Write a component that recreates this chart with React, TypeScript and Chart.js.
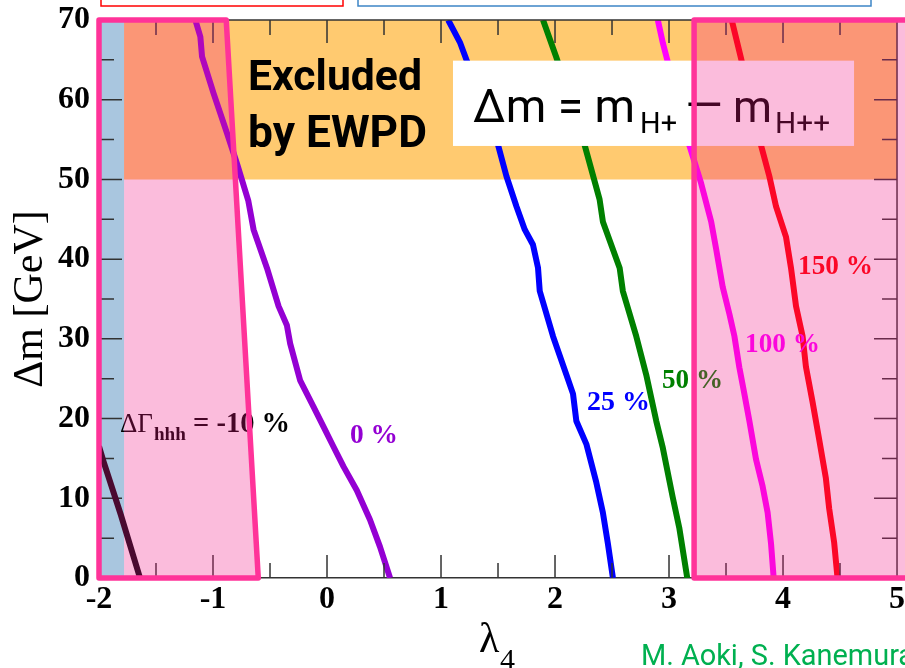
import React, { useEffect, useRef } from "react";
import { Chart, registerables } from "chart.js";

Chart.register(...registerables);

// ---------- axes ----------
const X_MIN = -2;
const X_MAX = 5.07;
const Y_MIN = 0;
const Y_MAX = 70;
const X_TICK_LABELS = [-2, -1, 0, 1, 2, 3, 4, 5];
const Y_TICK_LABELS = [0, 10, 20, 30, 40, 50, 60, 70];
const X_MAJOR_MARKS = [-1, 0, 1, 2, 3, 4];
const X_MINOR_MARKS = [-1.5, -0.5, 0.5, 1.5, 2.5, 3.5, 4.5];
const Y_MAJOR_MARKS = [10, 20, 30, 40, 50, 60];
const Y_MINOR_MARKS = [5, 15, 25, 35, 45, 55, 65];
const X_RIGHT_EDGE = 5;

// ---------- contour curves  [lambda4, Δm] ----------
const CURVE_M10: [number, number][] = [
  [-2.0, 16.5], [-1.96, 14.6], [-1.81, 8.0], [-1.64, 0],
];
const CURVE_0: [number, number][] = [
  [-1.155, 70], [-1.111, 67.9], [-1.096, 65.4], [-0.995, 60.8], [-0.877, 55.8],
  [-0.79, 52.0], [-0.69, 47.3], [-0.644, 43.7], [-0.527, 38.9], [-0.425, 34.1],
  [-0.352, 31.7], [-0.323, 29.4], [-0.236, 24.8], [-0.119, 21.5], [-0.031, 19.0],
  [0.056, 16.5], [0.144, 14.0], [0.261, 11.0], [0.377, 7.3], [0.465, 3.9], [0.553, 0],
];
const CURVE_25: [number, number][] = [
  [1.063, 70], [1.166, 67.2], [1.501, 54.3], [1.574, 50.4], [1.662, 46.6],
  [1.735, 43.7], [1.807, 41.8], [1.851, 38.9], [1.866, 36.0], [1.983, 30.3],
  [2.1, 25.5], [2.158, 23.1], [2.187, 19.7], [2.275, 16.8], [2.362, 12.0],
  [2.42, 8.2], [2.464, 4.3], [2.508, 0],
];
const CURVE_50: [number, number][] = [
  [1.895, 70], [2.012, 65.3], [2.26, 54.3], [2.391, 47.5], [2.42, 44.7],
  [2.567, 38.9], [2.595, 36.0], [2.713, 30.3], [2.8, 25.5], [2.888, 19.7],
  [2.946, 16.3], [3.033, 10.1], [3.09, 6.3], [3.16, 0],
];
const CURVE_100: [number, number][] = [
  [2.902, 70], [2.946, 67.1], [3.18, 54.2], [3.282, 49.5], [3.37, 44.7],
  [3.413, 41.3], [3.471, 36.5], [3.53, 33.1], [3.574, 30.3], [3.617, 26.4],
  [3.661, 23.1], [3.705, 19.7], [3.763, 14.9], [3.821, 11.5], [3.865, 8.2],
  [3.895, 4.3], [3.918, 0],
];
const CURVE_150: [number, number][] = [
  [3.55, 70], [3.63, 65.3], [3.807, 54.3], [3.88, 50.4], [3.939, 46.6],
  [4.026, 42.8], [4.07, 38.9], [4.114, 34.1], [4.172, 30.3], [4.201, 26.5],
  [4.259, 22.1], [4.318, 17.3], [4.376, 12.5], [4.405, 8.7], [4.449, 4.4],
  [4.478, 0],
];

// ---------- regions [lambda4, Δm] ----------
const EWPD_BAND: [number, number][] = [[-2, 50], [5, 50], [5, 70], [-2, 70], [-2, 50]];
const BLUE_STRIP: [number, number][] = [[-2, 0], [-1.78, 0], [-1.78, 70], [-2, 70], [-2, 0]];
const LEFT_SHADE: [number, number][] = [[-1.78, 0], [-0.603, 0], [-0.884, 70], [-1.78, 70], [-1.78, 0]];
const LEFT_FRAME: [number, number][] = [[-2, 0], [-0.603, 0], [-0.884, 70], [-2, 70], [-2, 0]];
const RIGHT_SHADE: [number, number][] = [[3.22, 0], [5.4, 0], [5.4, 70], [3.22, 70], [3.22, 0]];
const RIGHT_FRAME: [number, number][] = [[3.22, 0], [5.4, 0], [5.4, 70], [3.22, 70], [3.22, 0]];

// plot-box size in pixels (used to turn tick-mark lengths into axis units)
const PLOT_W = 806;
const PLOT_H = 558;
const TICK_MAJOR_PX = 23;
const TICK_MINOR_PX = 15;

const SERIF = "'Liberation Serif', 'Times New Roman', serif";
const SANS = "Roboto, 'Open Sans', sans-serif";
const PINK_SHADE = "rgba(240,24,134,0.29)";
const PINK_LINE = "#ff3399";
const FRAME_COLOR = "#333333";

const pts = (a: [number, number][]) => a.map(([x, y]) => ({ x, y }));
const xUnits = (px: number) => (px * (X_MAX - X_MIN)) / PLOT_W;
const yUnits = (px: number) => (px * (Y_MAX - Y_MIN)) / PLOT_H;

// inward tick marks as broken line segments (null point = gap)
function xMarks(marks: number[], edge: number, dir: number, px: number) {
  const out: any[] = [];
  for (const v of marks) {
    out.push({ x: v, y: edge }, { x: v, y: edge + dir * yUnits(px) }, { x: v, y: null });
  }
  return out;
}
function yMarks(marks: number[], edge: number, dir: number, px: number) {
  const out: any[] = [];
  for (const v of marks) {
    out.push({ x: edge, y: v }, { x: edge + dir * xUnits(px), y: v }, { x: null, y: v });
  }
  return out;
}

function fitSize(ctx: CanvasRenderingContext2D, text: string, width: number, font: (s: number) => string) {
  ctx.font = font(100);
  return (100 * width) / ctx.measureText(text).width;
}

function fitText(ctx: CanvasRenderingContext2D, text: string, x: number, y: number, width: number,
  font: (s: number) => string, color: string) {
  const size = fitSize(ctx, text, width, font);
  ctx.font = font(size);
  ctx.fillStyle = color;
  ctx.textBaseline = "alphabetic";
  ctx.textAlign = "left";
  ctx.fillText(text, x, y);
}

function drawAnnotations(chart: any) {
  const ctx: CanvasRenderingContext2D = chart.ctx;
  const px = (v: number) => chart.scales.x.getPixelForValue(v);
  const py = (v: number) => chart.scales.y.getPixelForValue(v);
  ctx.save();
  // label box
  ctx.fillStyle = "#ffffff";
  ctx.fillRect(px(1.105), py(64.9), px(4.623) - px(1.105), py(54.2) - py(64.9));
  const sansB = (s: number) => `bold ${s}px ${SANS}`;
  const sans = (s: number) => `${s}px ${SANS}`;
  const serifB = (s: number) => `bold ${s}px ${SERIF}`;
  const serif = (s: number) => `${s}px ${SERIF}`;
  fitText(ctx, "Excluded", px(-0.693), py(61.2), 174, sansB, "#000");
  fitText(ctx, "by EWPD", px(-0.693), py(54.1), 179, sansB, "#000");
  fitText(ctx, "Δm = m", px(1.281), py(57.2), 162, sans, "#000");
  fitText(ctx, "H+", px(2.746), py(55.8), 37, sans, "#000");
  fitText(ctx, "—", px(3.14), py(57.3), 38, sans, "#000");
  fitText(ctx, "m", px(3.561), py(57.2), 39, sans, "#000");
  fitText(ctx, "H++", px(3.93), py(55.8), 55, sans, "#000");
  // ΔΓhhh = -10 %
  fitText(ctx, "ΔΓ", px(-1.816), py(18.35), 33, serif, "#000");
  fitText(ctx, "hhh", px(-1.518), py(17.3), 32, serifB, "#000");
  fitText(ctx, "= -10 %", px(-1.175), py(18.35), 97, serifB, "#000");
  // curve labels
  fitText(ctx, "0 %", px(0.202), py(16.9), 48, serifB, "#9400d3");
  fitText(ctx, "25 %", px(2.281), py(21.1), 63, serifB, "#0000ff");
  fitText(ctx, "50 %", px(2.939), py(23.8), 61, serifB, "#008000");
  fitText(ctx, "100 %", px(3.667), py(28.4), 75, serifB, "#ff00ff");
  fitText(ctx, "150 %", px(4.132), py(38.1), 75, serifB, "#ff0000");
  ctx.restore();
}

function drawOutside(chart: any) {
  const ctx: CanvasRenderingContext2D = chart.ctx;
  ctx.save();
  ctx.lineWidth = 1.5;
  ctx.strokeStyle = "#ff0000";
  ctx.strokeRect(101, -10, 242, 16);
  ctx.strokeStyle = "#3d85c6";
  ctx.strokeRect(358, -10, 513, 16);
  // x-axis title λ4
  const xc = (chart.chartArea.left + chart.scales.x.getPixelForValue(X_RIGHT_EDGE)) / 2;
  ctx.fillStyle = "#000";
  ctx.textAlign = "left";
  ctx.textBaseline = "alphabetic";
  ctx.font = `42px ${SERIF}`;
  ctx.fillText("λ", xc - 19, 652);
  ctx.font = `30px ${SERIF}`;
  ctx.fillText("4", xc + 2, 669);
  // credit (cut by the right edge as in the slide)
  const credFont = (s: number) => `${s}px ${SANS}`;
  const size = fitSize(ctx, "M. Aoki, S. Kanemur", 258, credFont);
  ctx.font = credFont(size);
  ctx.fillStyle = "#00b050";
  ctx.fillText("M. Aoki, S. Kanemura", 641, 665);
  ctx.restore();
}

const annotPlugin = {
  id: "annot",
  afterDatasetDraw(chart: any, args: any) {
    const ds = chart.data.datasets[args.index];
    if (ds && ds.label === "150 %") drawAnnotations(chart);
  },
  afterDraw(chart: any) {
    drawOutside(chart);
  },
};

function region(label: string, data: [number, number][], color: string, order: number, clip: any = undefined) {
  const ds: any = {
    label, data: pts(data), showLine: true, fill: "shape", backgroundColor: color,
    borderColor: "rgba(0,0,0,0)", borderWidth: 0, pointRadius: 0, order,
  };
  if (clip !== undefined) ds.clip = clip;
  return ds;
}
function frame(label: string, data: [number, number][], order: number) {
  return {
    label, data: pts(data), showLine: true, fill: false, borderColor: PINK_LINE,
    borderWidth: 5.5, borderJoinStyle: "round", pointRadius: 0, order, clip: false,
  };
}
function curve(label: string, data: [number, number][], color: string, order: number) {
  return {
    label, data: pts(data), showLine: true, fill: false, borderColor: color,
    borderWidth: 6, borderJoinStyle: "round", pointRadius: 0, order,
  };
}
function marks(label: string, data: any[], order: number) {
  return {
    label, data, showLine: true, spanGaps: false, fill: false, borderColor: FRAME_COLOR,
    borderWidth: 1.5, pointRadius: 0, order, clip: false, borderCapStyle: "butt",
  };
}

export default function App() {
  const ref = useRef<HTMLCanvasElement>(null);
  useEffect(() => {
    document.body.style.margin = "0";
    const frameLines = [
      { x: X_MIN, y: Y_MAX }, { x: X_RIGHT_EDGE, y: Y_MAX }, { x: X_RIGHT_EDGE, y: Y_MIN },
    ];
    const chart = new Chart(ref.current as HTMLCanvasElement, {
      type: "scatter",
      data: {
        datasets: [
          region("ewpd", EWPD_BAND, "#ffca70", 100),
          region("blueStrip", BLUE_STRIP, "#a9c6df", 90),
          curve("0 %", CURVE_0, "#9400d3", 49),
          curve("25 %", CURVE_25, "#0000ff", 48),
          curve("50 %", CURVE_50, "#008000", 47),
          curve("100 %", CURVE_100, "#ff00ff", 46),
          curve("150 %", CURVE_150, "#ff0000", 40),
          marks("frameTopRight", frameLines, 36),
          marks("bottomMajor", xMarks(X_MAJOR_MARKS, Y_MIN, 1, TICK_MAJOR_PX), 35),
          marks("bottomMinor", xMarks(X_MINOR_MARKS, Y_MIN, 1, TICK_MINOR_PX), 35),
          marks("topMajor", xMarks(X_MAJOR_MARKS, Y_MAX, -1, TICK_MAJOR_PX), 35),
          marks("topMinor", xMarks(X_MINOR_MARKS, Y_MAX, -1, TICK_MINOR_PX), 35),
          marks("leftMajor", yMarks(Y_MAJOR_MARKS, X_MIN, 1, TICK_MAJOR_PX), 35),
          marks("leftMinor", yMarks(Y_MINOR_MARKS, X_MIN, 1, TICK_MINOR_PX), 35),
          marks("rightMajor", yMarks(Y_MAJOR_MARKS, X_RIGHT_EDGE, -1, TICK_MAJOR_PX), 35),
          marks("rightMinor", yMarks(Y_MINOR_MARKS, X_RIGHT_EDGE, -1, TICK_MINOR_PX), 35),
          region("leftShade", LEFT_SHADE, PINK_SHADE, 31),
          region("rightShade", RIGHT_SHADE, PINK_SHADE, 30, false),
          curve("-10 %", CURVE_M10, "#4a0a30", 20),
          frame("leftFrame", LEFT_FRAME, 10),
          frame("rightFrame", RIGHT_FRAME, 9),
        ] as any,
      },
      options: {
        responsive: false,
        devicePixelRatio: 1,
        animation: false,
        layout: { padding: { top: 20, left: 0, right: 0, bottom: 0 } },
        elements: { line: { tension: 0 }, point: { radius: 0 } },
        plugins: { legend: { display: false }, tooltip: { enabled: false } },
        scales: {
          x: {
            type: "linear", min: X_MIN, max: X_MAX,
            grid: { display: false, drawTicks: false },
            border: { display: true, color: FRAME_COLOR, width: 1.5 },
            ticks: { font: { family: SERIF, size: 32, weight: "bold" }, color: "#000", padding: 3, includeBounds: false },
            afterBuildTicks: (s: any) => { s.ticks = X_TICK_LABELS.map((v) => ({ value: v })); },
            afterFit: (s: any) => { s.height = 90; s.paddingLeft = 0; s.paddingRight = 0; },
          },
          y: {
            type: "linear", min: Y_MIN, max: Y_MAX,
            grid: { display: false, drawTicks: false },
            border: { display: true, color: FRAME_COLOR, width: 1.5 },
            ticks: { font: { family: SERIF, size: 32, weight: "bold" }, color: "#000", padding: 9 },
            afterBuildTicks: (s: any) => { s.ticks = Y_TICK_LABELS.map((v) => ({ value: v })); },
            afterFit: (s: any) => { s.width = 99; s.paddingTop = 0; s.paddingBottom = 0; },
            title: { display: true, text: "Δm [GeV]", font: { family: SERIF, size: 42 }, color: "#000", padding: { top: 6, bottom: 0 } },
          },
        },
      } as any,
      plugins: [annotPlugin],
    });
    return () => chart.destroy();
  }, []);
  return (
    <div style={{ width: 905, height: 668 }}>
      <canvas ref={ref} width={905} height={668} style={{ display: "block", width: 905, height: 668 }} />
    </div>
  );
}
